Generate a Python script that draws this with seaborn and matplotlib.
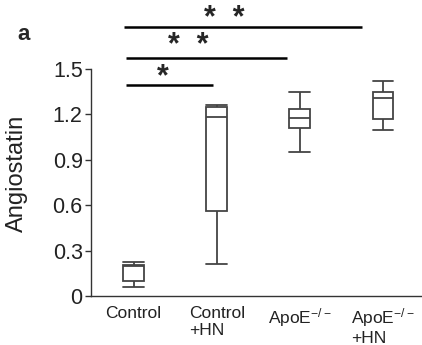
import numpy as np
import pandas as pd
import matplotlib
matplotlib.use("Agg")
import matplotlib.pyplot as plt
import seaborn as sns

# ---- data ----
groups = ["Control", "Control\n+HN", "ApoE$^{-/-}$", "ApoE$^{-/-}$\n+HN"]
# five-number summaries: min, Q1, median, Q3, max
control = [0.06, 0.10, 0.195, 0.205, 0.225]
control_hn = [0.21, 0.56, 1.18, 1.25, 1.26]
apoe = [0.95, 1.11, 1.175, 1.235, 1.35]
apoe_hn = [1.10, 1.17, 1.31, 1.35, 1.42]
yticks = [0, 0.3, 0.6, 0.9, 1.2, 1.5]
ytick_labels = ["0", "0.3", "0.6", "0.9", "1.2", "1.5"]
ylabel = "Angiostatin"
panel_label = "a"
# significance annotations: (end group index, label)
sig_ends = [1, 2, 3]
sig_labels = ["*", "*  *", "*  *"]

df = pd.DataFrame({
    "group": np.repeat(groups, 5),
    "value": control + control_hn + apoe + apoe_hn,
})

sns.set_style("ticks")
plt.rcParams["font.family"] = ["Liberation Sans", "DejaVu Sans"]
plt.rcParams["mathtext.fontset"] = "custom"
plt.rcParams["mathtext.rm"] = "Liberation Sans"
plt.rcParams["mathtext.it"] = "Liberation Sans:italic"
plt.rcParams["mathtext.default"] = "regular"

W, H = 422, 345
fig = plt.figure(figsize=(W / 100, H / 100), dpi=100)
ax = fig.add_axes([91 / W, 1 - 296 / H, 331 / W, 227 / H])

edge = "#444444"
sns.boxplot(data=df, x="group", y="value", order=groups, ax=ax,
            color="white", linecolor=edge, linewidth=1.3, whis=np.inf,
            widths=0.25, capwidths=0.25, showfliers=False)

ax.set_xlim(-0.513, 3.47)
ax.set_ylim(0, 1.5)
ax.set_yticks(yticks)
ax.set_yticklabels(ytick_labels)
ax.set_xlabel("")
ax.set_ylabel(ylabel, fontsize=17, color="#222222")
ax.yaxis.set_label_coords(-0.19, 0.54)
ax.tick_params(axis="y", length=4, width=1, pad=2, labelsize=15.5,
               colors="#333333", labelcolor="#222222")
ax.tick_params(axis="x", length=0, pad=7, labelsize=12.5, labelcolor="#222222")
for lab in ax.get_xticklabels():
    lab.set_multialignment("left")
for s in ["top", "right"]:
    ax.spines[s].set_visible(False)
for s in ["left", "bottom"]:
    ax.spines[s].set_color("#333333")
    ax.spines[s].set_linewidth(1.0)

# significance lines and stars
line_y = [1.395, 1.573, 1.778]
end_off = [0.04, 0.15, 0.25]
start_x = [-0.09, -0.09, -0.115]
star_x = [0.356, 0.658, 1.087]
star_y = [1.39, 1.60, 1.78]
for i in range(3):
    ax.plot([start_x[i], sig_ends[i] - end_off[i]], [line_y[i], line_y[i]],
            color="black", lw=1.8, clip_on=False, solid_capstyle="butt")
    ax.text(star_x[i], star_y[i], sig_labels[i], ha="center", va="baseline",
            fontsize=22, fontweight="bold", clip_on=False)

fig.text(17 / W, 1 - 40 / H, panel_label, fontsize=16, fontweight="bold",
         ha="left", va="baseline")

fig.savefig("out.png", dpi=100)
